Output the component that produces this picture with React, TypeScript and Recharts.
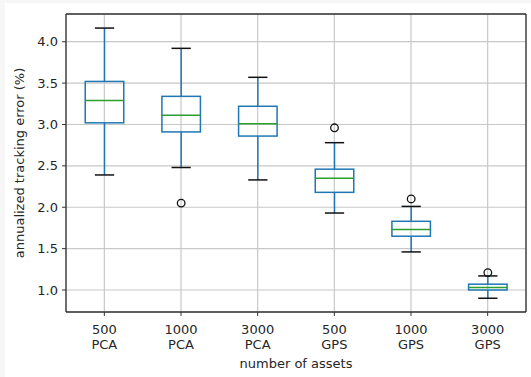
import { ComposedChart, Bar, XAxis, YAxis, CartesianGrid, ReferenceLine, Label } from 'recharts';

// number of assets / method per box
const sizes = ['500', '1000', '3000', '500', '1000', '3000'];
const methods = ['PCA', 'PCA', 'PCA', 'GPS', 'GPS', 'GPS'];

// box stats (annualized tracking error, %)
const whiskerLow = [2.39, 2.48, 2.33, 1.93, 1.46, 0.9];
const q1 = [3.02, 2.91, 2.86, 2.18, 1.65, 1.0];
const median = [3.29, 3.11, 3.01, 2.35, 1.73, 1.03];
const q3 = [3.52, 3.34, 3.22, 2.46, 1.83, 1.07];
const whiskerHigh = [4.165, 3.92, 3.57, 2.78, 2.01, 1.17];
const outliers: (number | null)[] = [null, 2.05, null, 2.96, 2.1, 1.21];

const yTicks = [1.0, 1.5, 2.0, 2.5, 3.0, 3.5, 4.0];
const yDomain: [number, number] = [0.734, 4.335];

const data = sizes.map((s, i) => ({
  name: `${s} ${methods[i]}`,
  size: s,
  method: methods[i],
  lo: whiskerLow[i],
  q1: q1[i],
  med: median[i],
  q3: q3[i],
  hi: whiskerHigh[i],
  out: outliers[i],
}));

const FONT = 'DejaVu Sans';
const FS = 13;
const BLUE = '#1f77b4';
const GREEN = '#2ca02c';
const AXIS = '#333333';

const BoxShape = (props: any) => {
  const { x, y, width, height, payload } = props;
  const top = Math.min(y, y + height);
  const h = Math.abs(height);
  const { lo, hi } = payload;
  // linear map built from the bar's own pixel span (lo..hi)
  const py = (v: number) => top + ((hi - v) / (hi - lo)) * h;
  const cx = x + width / 2;
  const bw = width * 0.25;
  const cw = width * 0.125;
  return (
    <g>
      <line x1={cx} x2={cx} y1={py(hi)} y2={py(payload.q3)} stroke={BLUE} strokeWidth={1.5} />
      <line x1={cx} x2={cx} y1={py(payload.q1)} y2={py(lo)} stroke={BLUE} strokeWidth={1.5} />
      <rect x={cx - bw} y={py(payload.q3)} width={bw * 2} height={py(payload.q1) - py(payload.q3)} fill="none" stroke={BLUE} strokeWidth={1.5} />
      <line x1={cx - bw} x2={cx + bw} y1={py(payload.med)} y2={py(payload.med)} stroke={GREEN} strokeWidth={1.5} />
      <line x1={cx - cw} x2={cx + cw} y1={py(hi)} y2={py(hi)} stroke="#111" strokeWidth={1.5} />
      <line x1={cx - cw} x2={cx + cw} y1={py(lo)} y2={py(lo)} stroke="#111" strokeWidth={1.5} />
      {payload.out != null && (
        <circle cx={cx} cy={py(payload.out)} r={3.8} fill="none" stroke="#111" strokeWidth={1.3} />
      )}
    </g>
  );
};

const XTick = (props: any) => {
  const { x, y, payload } = props;
  const row = data.find((d) => d.name === payload.value);
  return (
    <text x={x} y={y} textAnchor="middle" fontFamily={FONT} fontSize={FS} fill="#262626">
      <tspan x={x} dy={16}>{row?.size}</tspan>
      <tspan x={x} dy={15}>{row?.method}</tspan>
    </text>
  );
};

export default function App() {
  return (
    <div
      style={{
        position: 'absolute',
        left: 0,
        top: 0,
        width: 531,
        height: 377,
        background: '#f7f7f7',
      }}
    >
      <div style={{ position: 'absolute', left: 5, top: 3, background: '#fff' }}>
        <ComposedChart
          width={526}
          height={374}
          data={data}
          margin={{ top: 11, right: 0, bottom: 0, left: 0 }}
          barCategoryGap={0}
          barGap={0}
        >
          <CartesianGrid stroke="#c8c8c8" strokeWidth={1.2} />
          <XAxis
            dataKey="name"
            height={65}
            tickSize={4}
            tickMargin={2}
            stroke={AXIS}
            axisLine={{ stroke: AXIS, strokeWidth: 1.3 }}
            tickLine={{ stroke: AXIS }}
            tick={<XTick />}
            interval={0}
          >
            <Label
              value="number of assets"
              position="insideBottom"
              offset={9}
              style={{ fontFamily: FONT, fontSize: FS, fill: '#262626' }}
            />
          </XAxis>
          <YAxis
            type="number"
            domain={yDomain}
            ticks={yTicks}
            width={61}
            tickSize={4}
            tickMargin={4}
            allowDataOverflow
            axisLine={{ stroke: AXIS, strokeWidth: 1.3 }}
            tickLine={{ stroke: AXIS }}
            tick={{ fontFamily: FONT, fontSize: FS, fill: '#262626' }}
            tickFormatter={(v: number) => v.toFixed(1)}
          >
            <Label
              content={({ viewBox }: any) => {
                const lx = viewBox.x + 19;
                const ly = viewBox.y + viewBox.height / 2;
                return (
                  <text
                    x={lx}
                    y={ly}
                    transform={`rotate(-90, ${lx}, ${ly})`}
                    textAnchor="middle"
                    fontFamily={FONT}
                    fontSize={FS}
                    fill="#262626"
                  >
                    annualized tracking error (%)
                  </text>
                );
              }}
            />
          </YAxis>
          <YAxis
            yAxisId="right"
            orientation="right"
            type="number"
            domain={yDomain}
            ticks={yTicks}
            width={5}
            allowDataOverflow
            tick={false}
            tickLine={false}
            axisLine={{ stroke: AXIS, strokeWidth: 1.3 }}
          />
          <ReferenceLine y={yDomain[1]} stroke={AXIS} strokeWidth={1.3} />
          <Bar
            dataKey={(d: any) => [d.lo, d.hi]}
            shape={<BoxShape />}
            isAnimationActive={false}
          />
        </ComposedChart>
      </div>
    </div>
  );
}
